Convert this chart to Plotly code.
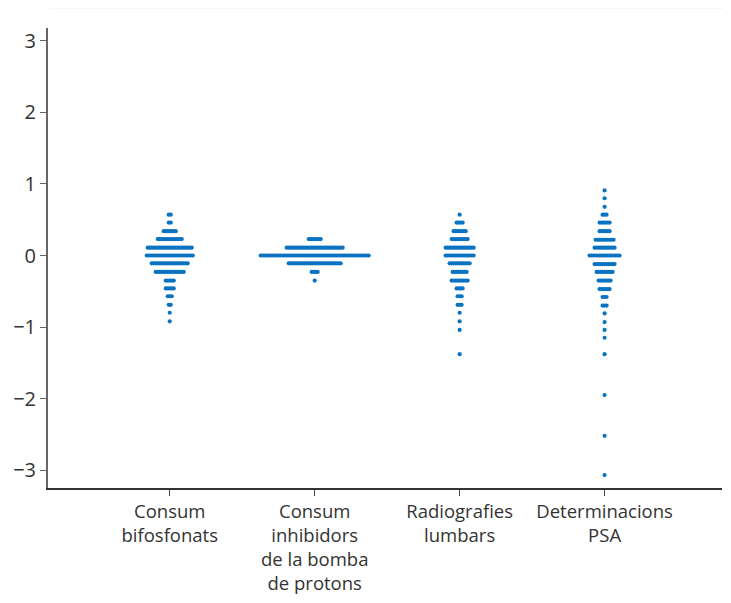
import plotly.graph_objects as go

categories = ["Consum<br>bifosfonats", "Consum<br>inhibidors<br>de la bomba<br>de protons",
              "Radiografies<br>lumbars", "Determinacions<br>PSA"]
cat_pos = [1, 2, 3, 4]

# binned values (row levels) and number of dots on each row
rows_bifos = [0.57, 0.46, 0.34, 0.23, 0.11, 0.0, -0.11, -0.23, -0.35, -0.46, -0.57, -0.69, -0.80, -0.92]
counts_bifos = [2, 2, 7, 13, 23, 24, 19, 15, 5, 5, 3, 2, 1, 1]

rows_ibp = [0.23, 0.11, 0.0, -0.11, -0.23, -0.35]
counts_ibp = [7, 29, 55, 27, 4, 1]

rows_radio = [0.57, 0.46, 0.34, 0.23, 0.11, 0.0, -0.11, -0.23, -0.35, -0.46, -0.57, -0.69, -0.80, -0.92, -1.04, -1.38]
counts_radio = [1, 4, 7, 9, 15, 15, 11, 8, 9, 4, 3, 3, 1, 1, 1, 1]

rows_psa = [0.91, 0.80, 0.68, 0.57, 0.46, 0.34, 0.22, 0.11, 0.0, -0.12, -0.23, -0.35, -0.47, -0.58,
            -0.70, -0.81, -0.93, -1.04, -1.15, -1.38, -1.95, -2.52, -3.07]
counts_psa = [1, 1, 1, 3, 6, 6, 10, 11, 16, 11, 9, 7, 6, 3, 3, 1, 1, 1, 1, 1, 1, 1, 1]

series = [(rows_bifos, counts_bifos), (rows_ibp, counts_ibp),
          (rows_radio, counts_radio), (rows_psa, counts_psa)]

x_range = [0.16, 4.81]
plot_w_px = 674
dx = 2.0 * (x_range[1] - x_range[0]) / plot_w_px  # 2px between dot centres

xs, ys = [], []
for pos, (rows, counts) in zip(cat_pos, series):
    for yv, n in zip(rows, counts):
        for i in range(n):
            xs.append(pos + (i - (n - 1) / 2) * dx)
            ys.append(yv)

fig = go.Figure()
fig.add_trace(go.Scatter(x=xs, y=ys, mode="markers",
                         marker=dict(size=4.2, color="#0A73C2", line=dict(width=0)),
                         hoverinfo="skip", showlegend=False))

fig.update_layout(
    width=715, height=587,
    margin=dict(l=40, r=1, t=20, b=107),
    paper_bgcolor="white", plot_bgcolor="white",
    font=dict(family="Open Sans, Noto Sans, sans-serif", color="#333333"),
    showlegend=False,
)
fig.update_xaxes(
    range=x_range, tickmode="array", tickvals=cat_pos, ticktext=categories,
    showgrid=False, zeroline=False, showline=True, linecolor="#333333", linewidth=2,
    ticks="outside", ticklen=6, tickwidth=1, tickcolor="#444444",
    tickfont=dict(size=18.5, color="#333333"), automargin=False,
)
fig.update_yaxes(
    range=[-3.25, 3.18], tickmode="array", tickvals=[-3, -2, -1, 0, 1, 2, 3],
    ticktext=["\u22123", "\u22122", "\u22121", "0", "1", "2", "3"],
    showgrid=False, zeroline=False, showline=True, linecolor="#666666", linewidth=2,
    ticks="outside", ticklen=6, tickwidth=1, tickcolor="#666666",
    tickfont=dict(size=20, color="#333333"), automargin=False,
)
fig.add_shape(type="line", xref="paper", yref="paper", x0=0.003, x1=1.02,
              y0=1.0435, y1=1.0435, line=dict(color="#e6edf5", width=1))

fig.write_html("out.html")
